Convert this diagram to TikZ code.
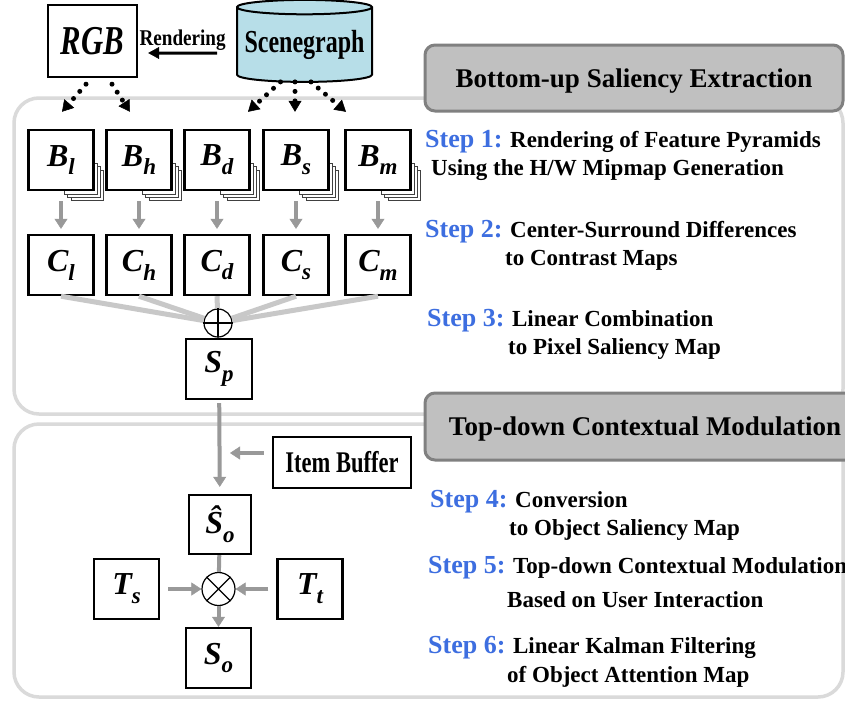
\documentclass[tikz,border=0pt]{standalone}
\usepackage{fontspec}
\setmainfont{Liberation Serif}
\newfontfamily\narrowserif[FakeStretch=0.75]{Liberation Serif}
\newfontfamily\midserif[FakeStretch=0.85]{Liberation Serif}
\usepackage{tikz}
\usetikzlibrary{positioning,shapes.geometric,arrows.meta}
\definecolor{framegray}{HTML}{DADADA}
\definecolor{headfill}{HTML}{C0C0C0}
\definecolor{headline}{HTML}{808080}
\definecolor{flowgray}{HTML}{999999}
\definecolor{sumgray}{HTML}{C8C8C8}
\definecolor{stepblue}{HTML}{3D6EE0}
\definecolor{scenefill}{HTML}{B7DEE8}
% map symbol with lowered subscript, e.g. B_l
\newcommand\mapsym[2]{\fontsize{32}{32}\selectfont\bfseries\itshape #1\raisebox{-0.28em}{\fontsize{23}{23}\selectfont #2}}
\newcommand\stepno[1]{{\fontsize{26}{26}\selectfont\color{stepblue}Step #1:}}
\tikzset{
  mapbox/.style={draw, line width=2.4pt, fill=white, minimum width=65pt, minimum height=60pt, inner sep=0pt},
  pagelayer/.style={draw=black!75, fill=white, line width=0.5pt},
  region/.style={draw=framegray, line width=3.5pt, rounded corners=25pt},
  header/.style={draw=headline, fill=headfill, line width=3pt, rounded corners=10pt, inner sep=0pt, font=\fontsize{27}{27}\selectfont\bfseries, text depth=0pt},
  steptext/.style={anchor=base west, inner sep=0pt, font=\fontsize{23}{23}\selectfont\bfseries},
  dotarrow/.style={line width=5pt, line cap=round, dash pattern=on 0pt off 9.5pt, -{Triangle[length=11pt, width=13pt, line width=0.5pt]}},
  blackarrow/.style={line width=3pt, -{Triangle[length=11pt, width=12pt, line width=0.5pt]}},
  grayarrow/.style={draw=flowgray, line width=4pt, -{Triangle[length=10pt, width=13pt, line width=0.5pt]}},
  grayline/.style={draw=flowgray, line width=4pt},
  sumline/.style={draw=sumgray, line width=5pt},
  opcircle/.style={draw, circle, line width=1.2pt, fill=white, inner sep=0pt}
}
\begin{document}
\begin{tikzpicture}[x=1pt, y=-1pt]
  \useasboundingbox (0,0) rectangle (845,702);
  \fill[white] (0,0) rectangle (845,702);

  % the two stages
  \draw[region] (14,98) rectangle (843,414);
  \draw[region] (14,424) rectangle (843,697);
  \node[header, minimum width=418pt, minimum height=66pt] (hdbottom) at (634,78) {Bottom-up Saliency Extraction};
  \node[header, minimum width=440pt, minimum height=67pt] (hdtop) at (645,426.5) {Top-down Contextual Modulation};

  % input
  \node[mapbox, minimum width=89pt, minimum height=72pt, font=\narrowserif\fontsize{41}{41}\selectfont\bfseries\itshape] (rgb) at (92.5,41) {RGB};
  \node[draw, cylinder, shape border rotate=90, aspect=0.12, cylinder uses custom fill, cylinder body fill=scenefill, cylinder end fill=scenefill, line width=2pt, minimum width=135pt, minimum height=82pt, inner sep=0pt, font=\narrowserif\fontsize{32}{32}\selectfont\bfseries] (scene) at (304.5,45) {Scenegraph};
  \draw[blackarrow] ([shift={(-19,8)}]scene.west) -- node[above=1pt, inner sep=0pt, font=\midserif\fontsize{22.5}{22.5}\selectfont\bfseries] {Rendering} ([shift={(10,12)}]rgb.east);

  % feature pyramids and contrast maps
  \foreach \sub/\x in {l/61,h/139,d/217,s/296,m/378}{
    \foreach \k in {3,2,1}
      \draw[pagelayer] (\x+3.3*\k,160+3.3*\k) rectangle ++(32.5,30.5);
    \node[mapbox] (b\sub) at (\x,160) {\mapsym{B}{\sub}};
    \node[mapbox] (c\sub) at (\x,265) {\mapsym{C}{\sub}};
    \draw[grayarrow, shorten <=10pt, shorten >=5pt] (b\sub) -- (c\sub);
  }

  \draw[dotarrow] ([shift={(-6.5,6)}]rgb.south) -- ([shift={(1,-17)}]bl.north);
  \draw[dotarrow] ([shift={(19.5,6)}]rgb.south) -- ([shift={(-9,-17)}]bh.north);
  \draw[dotarrow] ([shift={(-24,-1)}]scene.south) -- ([shift={(31,-17)}]bd.north);
  \draw[dotarrow] ([shift={(-9.5,-1)}]scene.south) -- ([shift={(-1,-17)}]bs.north);
  \draw[dotarrow] ([shift={(6.5,-1)}]scene.south) -- ([shift={(-32,-17)}]bm.north);

  % linear combination
  \node[opcircle, minimum size=28pt] (sum) at (218,323) {};
  \foreach \sub in {l,h,d,s,m}
    \draw[sumline] (c\sub.south) -- (sum);
  \draw[line width=1.2pt] (sum.north) -- (sum.south) (sum.east) -- (sum.west);
  \node[mapbox, minimum width=66pt] (sp) at (219,369) {\mapsym{S}{p}};
  \draw[grayline, line width=3pt] (sum) -- (sp);

  % object saliency and modulation
  \node[mapbox, minimum width=138pt, minimum height=51pt, font=\narrowserif\fontsize{30}{30}\selectfont\bfseries] (item) at (342,462.5) {Item Buffer};
  \node[mapbox, minimum width=62pt, minimum height=59pt] (sohat) at (220,524.5) {\mapsym{\^S}{o}};
  \node[opcircle, minimum size=33pt] (prod) at (218.5,589) {};
  \draw[line width=1.2pt] (prod.45) -- (prod.225) (prod.135) -- (prod.315);
  \node[mapbox] (ts) at (126.5,589) {\mapsym{T}{s}};
  \node[mapbox] (tt) at (310,589) {\mapsym{T}{t}};
  \node[mapbox] (so) at (218.5,658) {\mapsym{S}{o}};

  \draw[grayarrow, shorten <=3pt, shorten >=7pt] (sp) -- (sohat);
  \coordinate (feed) at ([shift={(0,-9.5)}]item.west);
  \draw[grayarrow, shorten <=8pt, shorten >=11pt] (feed) -- (feed -| sp.south);
  \draw[grayline] (sohat) -- (prod);
  \draw[grayarrow, shorten <=8pt] (ts) -- (prod);
  \draw[grayarrow, shorten <=8pt] (tt) -- (prod);
  \draw[grayarrow] (prod) -- (so);

  % step descriptions
  \node[steptext] (st1a) at (425,147) {\stepno{1} Rendering of Feature Pyramids};
  \node[steptext] (st1b) at (431,175) {Using the H/W Mipmap Generation};
  \node[steptext] (st2a) at (425,237) {\stepno{2} Center-Surround Differences};
  \node[steptext] (st2b) at (505,265) {to Contrast Maps};
  \node[steptext] (st3a) at (427,326) {\stepno{3} Linear Combination};
  \node[steptext] (st3b) at (508,354) {to Pixel Saliency Map};
  \node[steptext] (st4a) at (430,507) {\stepno{4} Conversion};
  \node[steptext] (st4b) at (509,535) {to Object Saliency Map};
  \node[steptext] (st5a) at (428,573) {\stepno{5} Top-down Contextual Modulation};
  \node[steptext] (st5b) at (507,607) {Based on User Interaction};
  \node[steptext] (st6a) at (428,653) {\stepno{6} Linear Kalman Filtering};
  \node[steptext] (st6b) at (507,682) {of Object Attention Map};
\end{tikzpicture}
\end{document}
